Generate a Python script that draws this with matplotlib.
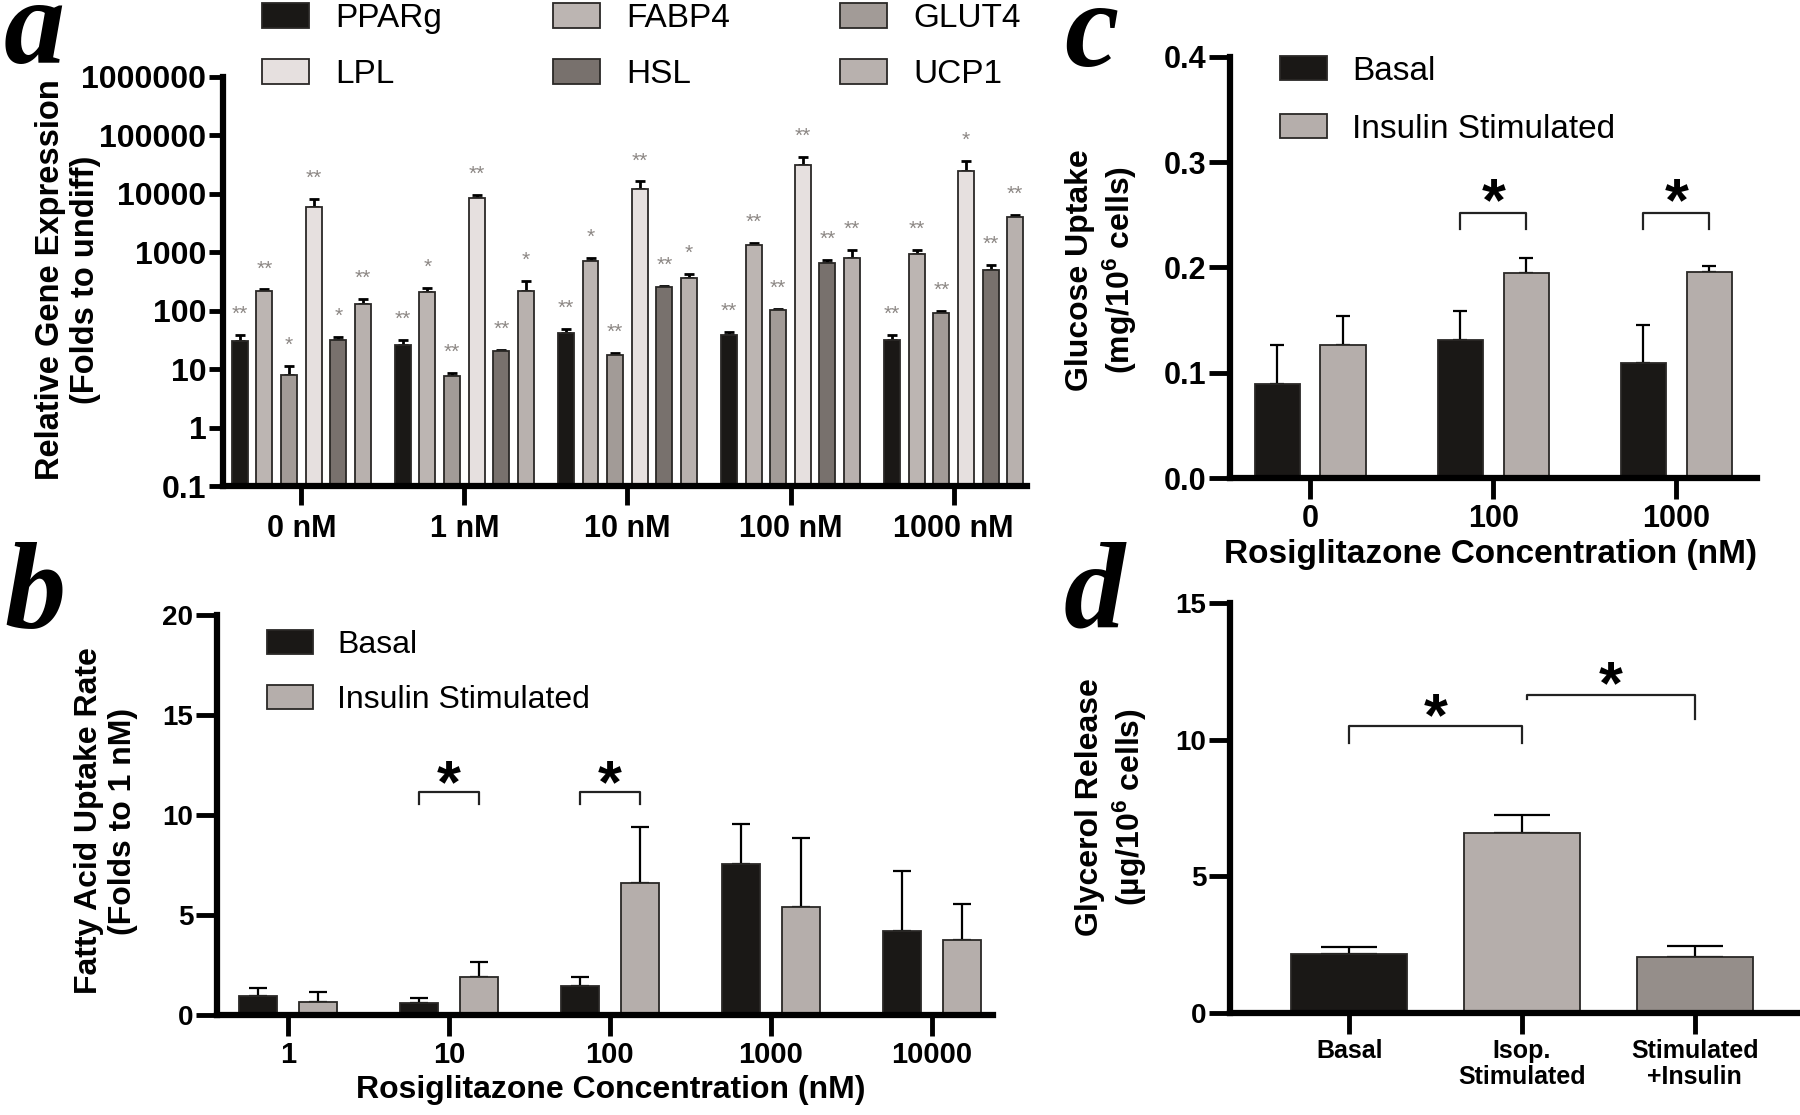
import numpy as np
import matplotlib
matplotlib.use("Agg")
import matplotlib.pyplot as plt

plt.rcParams["font.family"] = ["Liberation Sans", "DejaVu Sans"]
plt.rcParams["mathtext.fontset"] = "custom"
plt.rcParams["mathtext.rm"] = "Liberation Sans:bold"
plt.rcParams["mathtext.bf"] = "Liberation Sans:bold"
plt.rcParams["mathtext.it"] = "Liberation Sans:bold:italic"

W, H = 1800, 1115

# ---- a: gene expression (folds to undiff), upper error only
conc_a = ["0 nM", "1 nM", "10 nM", "100 nM", "1000 nM"]
genes = ["PPARg", "FABP4", "GLUT4", "LPL", "HSL", "UCP1"]
gene_colors = ["#1a1816", "#bcb5b2", "#a29b97", "#e6e0df", "#78716d", "#b8b1ae"]
pparg = [30, 26, 42, 39, 31]
pparg_err = [9, 5, 7, 4, 8]
fabp4 = [219, 205, 723, 1350, 942]
fabp4_err = [12, 36, 70, 90, 158]
glut4 = [8.0, 7.7, 17.7, 102, 93]
glut4_err = [3.4, 0.8, 0.9, 7, 6]
lpl = [6030, 8610, 12300, 31200, 24200]
lpl_err = [2030, 970, 4000, 11100, 12800]
hsl = [32, 20.2, 250, 667, 499]
hsl_err = [3, 1.1, 14, 76, 109]
ucp1 = [129, 219, 358, 793, 3990]
ucp1_err = [28, 103, 62, 307, 340]
pparg_sig = ["**", "**", "**", "**", "**"]
fabp4_sig = ["**", "*", "*", "**", "**"]
glut4_sig = ["*", "**", "**", "**", "**"]
lpl_sig = ["**", "**", "**", "**", "*"]
hsl_sig = ["*", "**", "**", "**", "**"]
ucp1_sig = ["**", "*", "*", "**", "**"]
a_ticks = [0.1, 1, 10, 100, 1000, 10000, 100000, 1000000]
a_ticklabels = ["0.1", "1", "10", "100", "1000", "10000", "100000", "1000000"]

# ---- b: fatty acid uptake
conc_b = ["1", "10", "100", "1000", "10000"]
fa_basal = [0.97, 0.62, 1.47, 7.54, 4.19]
fa_basal_err = [0.36, 0.21, 0.44, 2.0, 3.02]
fa_insulin = [0.67, 1.89, 6.59, 5.39, 3.75]
fa_insulin_err = [0.48, 0.76, 2.81, 3.44, 1.78]
fa_sig_groups = [1, 2]
fa_bracket_top = 11.13
fa_bracket_leg = 10.56
fa_star_y = 12.4

# ---- c: glucose uptake
conc_c = ["0", "100", "1000"]
glu_basal = [0.0892, 0.131, 0.109]
glu_basal_err = [0.037, 0.028, 0.036]
glu_insulin = [0.126, 0.195, 0.196]
glu_insulin_err = [0.028, 0.014, 0.005]
glu_sig_groups = [1, 2]
glu_bracket_top = 0.2516
glu_bracket_leg = 0.237
glu_star_y = 0.279

# ---- d: glycerol release
glyc_labels = ["Basal", "Isop.\nStimulated", "Stimulated\n+Insulin"]
glyc_colors = ["#1a1816", "#b5aeab", "#958e8a"]
glyc = [2.15, 6.57, 2.04]
glyc_err = [0.26, 0.69, 0.41]
glyc_pairs = [(0, 1), (1, 2)]
glyc_bracket_top = [10.5, 11.64]
glyc_leg_left = [9.86, 11.5]
glyc_leg_right = [9.86, 10.76]
glyc_star_y = [11.47, 12.63]

basal_color = "#1a1816"
insulin_color = "#b5aeab"
edge = "#2a2826"


def box(left, top, right, bottom):
    return [left / W, 1 - bottom / H, (right - left) / W, (bottom - top) / H]


def style(ax, ylen=15, xlen=15):
    for s in ["top", "right"]:
        ax.spines[s].set_visible(False)
    for s in ["left", "bottom"]:
        ax.spines[s].set_linewidth(4.5)
    ax.tick_params(axis="y", direction="out", width=3.5, length=ylen, pad=2)
    ax.tick_params(axis="x", direction="out", width=3.5, length=xlen, pad=4)
    ax.minorticks_off()


def bracket(ax, x0, x1, top, leg0, leg1, star_y, size=44):
    ax.plot([x0, x0, x1, x1], [leg0, top, top, leg1], color="#222", lw=1.6)
    ax.annotate("*", (0.5 * (x0 + x1), star_y), xytext=(0, -0.58 * size),
                textcoords="offset points", ha="center", va="baseline",
                fontsize=size, fontweight="bold")


fig = plt.figure(figsize=(18, 11.15), dpi=100)

# ================= panel a
ax = fig.add_axes(box(223, 77, 1027, 486))
style(ax, ylen=10, xlen=14)
ax.set_yscale("log")
series = [pparg, fabp4, glut4, lpl, hsl, ucp1]
errs = [pparg_err, fabp4_err, glut4_err, lpl_err, hsl_err, ucp1_err]
sigs = [pparg_sig, fabp4_sig, glut4_sig, lpl_sig, hsl_sig, ucp1_sig]
xa = np.arange(len(conc_a))
step, wa = 0.151, 0.098
a_handles = []
for i, (vals, err, sig, col) in enumerate(zip(series, errs, sigs, gene_colors)):
    xs = xa + (i - 2.5) * step
    bars = ax.bar(xs, vals, wa, color=col, edgecolor=edge, linewidth=1.3,
                  label=genes[i], zorder=2)
    a_handles.append(bars)
    ax.errorbar(xs, vals, yerr=[np.zeros(len(vals)), err], fmt="none",
                ecolor="k", elinewidth=2, capsize=3.5, capthick=2, zorder=1)
    for x, v, e, s in zip(xs, vals, err, sig):
        ax.annotate(s, (x, v + e), xytext=(0, 8), textcoords="offset points",
                    ha="center", va="bottom", fontsize=15, color="#8c8784")
ax.set_ylim(0.1, 1e6)
ax.set_yticks(a_ticks)
ax.set_yticklabels(a_ticklabels, fontsize=23, fontweight="bold")
ax.set_xlim(-0.48, 4.45)
ax.set_xticks(xa)
ax.set_xticklabels(conc_a, fontsize=22, fontweight="bold")
ax.tick_params(axis="x", pad=6)
fig.text(68 / W, 1 - 280 / H, "Relative Gene Expression\n(Folds to undiff)",
         rotation=90, ha="center", va="center", multialignment="center",
         fontsize=23.5, fontweight="bold")
order = [0, 3, 1, 4, 2, 5]
fig.legend([a_handles[k] for k in order], [genes[k] for k in order],
           loc="upper left", bbox_to_anchor=(262 / W, 1 - 3 / H), ncol=3,
           frameon=False, fontsize=24, borderpad=0, borderaxespad=0,
           handlelength=1.41, handleheight=0.75, handletextpad=0.8,
           columnspacing=3.3, labelspacing=0.76)

# ================= panel b
ax = fig.add_axes(box(217, 615, 993, 1015))
style(ax)
xb = np.arange(len(conc_b))
ob, wb = 0.186, 0.236
hb1 = ax.bar(xb - ob, fa_basal, wb, color=basal_color, edgecolor=edge, lw=1.3,
             label="Basal", zorder=2)
hb2 = ax.bar(xb + ob, fa_insulin, wb, color=insulin_color, edgecolor=edge,
             lw=1.3, label="Insulin Stimulated", zorder=2)
for xs, vals, err in [(xb - ob, fa_basal, fa_basal_err),
                      (xb + ob, fa_insulin, fa_insulin_err)]:
    ax.errorbar(xs, vals, yerr=[np.zeros(len(vals)), err], fmt="none",
                ecolor="k", elinewidth=1.6, capsize=6.5, capthick=1.6, zorder=1)
for g in fa_sig_groups:
    bracket(ax, g - ob, g + ob, fa_bracket_top, fa_bracket_leg, fa_bracket_leg,
            fa_star_y)
ax.set_ylim(0, 20)
ax.set_yticks([0, 5, 10, 15, 20])
ax.set_yticklabels(["0", "5", "10", "15", "20"], fontsize=20, fontweight="bold")
ax.set_xlim(-0.44, 4.38)
ax.set_xticks(xb)
ax.set_xticklabels(conc_b, fontsize=21, fontweight="bold")
fig.text(106 / W, 1 - 821 / H, "Fatty Acid Uptake Rate\n(Folds to 1 nM)",
         rotation=90, ha="center", va="center", multialignment="center",
         fontsize=23, fontweight="bold")
fig.text(611 / W, 1 - 1090 / H, "Rosiglitazone Concentration (nM)",
         ha="center", va="center", fontsize=23, fontweight="bold")
fig.legend([hb1, hb2], ["Basal", "Insulin Stimulated"], loc="upper left",
           bbox_to_anchor=(267 / W, 1 - 630 / H), frameon=False, fontsize=23,
           borderpad=0, borderaxespad=0, handlelength=1.45, handleheight=0.78,
           handletextpad=0.75, labelspacing=0.78)

# ================= panel c
ax = fig.add_axes(box(1230, 57, 1757, 478))
style(ax)
xc = np.arange(len(conc_c))
oc, wc = 0.18, 0.246
hc1 = ax.bar(xc - oc, glu_basal, wc, color=basal_color, edgecolor=edge, lw=1.3,
             zorder=2)
hc2 = ax.bar(xc + oc, glu_insulin, wc, color=insulin_color, edgecolor=edge,
             lw=1.3, zorder=2)
for xs, vals, err in [(xc - oc, glu_basal, glu_basal_err),
                      (xc + oc, glu_insulin, glu_insulin_err)]:
    ax.errorbar(xs, vals, yerr=[np.zeros(len(vals)), err], fmt="none",
                ecolor="k", elinewidth=1.6, capsize=5, capthick=1.6, zorder=1)
for g in glu_sig_groups:
    bracket(ax, g - oc, g + oc, glu_bracket_top, glu_bracket_leg,
            glu_bracket_leg, glu_star_y)
ax.set_ylim(0, 0.4)
ax.set_yticks([0, 0.1, 0.2, 0.3, 0.4])
ax.set_yticklabels(["0.0", "0.1", "0.2", "0.3", "0.4"], fontsize=22,
                   fontweight="bold")
ax.set_xlim(-0.437, 2.44)
ax.set_xticks(xc)
ax.set_xticklabels(conc_c, fontsize=22, fontweight="bold")
fig.text(1102 / W, 1 - 270 / H, "Glucose Uptake\n(mg/10$^{\\mathbf{6}}$ cells)",
         rotation=90, ha="center", va="center", multialignment="center",
         fontsize=23, fontweight="bold")
fig.text(1490 / W, 1 - 554 / H, "Rosiglitazone Concentration (nM)",
         ha="center", va="center", fontsize=24, fontweight="bold")
fig.legend([hc1, hc2], ["Basal", "Insulin Stimulated"], loc="upper left",
           bbox_to_anchor=(1280 / W, 1 - 56 / H), frameon=False, fontsize=24,
           borderpad=0, borderaxespad=0, handlelength=1.42, handleheight=0.72,
           handletextpad=0.75, labelspacing=0.8)

# ================= panel d
ax = fig.add_axes(box(1230, 603, 1800, 1013))
style(ax)
xd = np.arange(len(glyc))
ax.bar(xd, glyc, 0.67, color=glyc_colors, edgecolor=edge, lw=1.3, zorder=2)
ax.errorbar(xd, glyc, yerr=[np.zeros(len(glyc)), glyc_err], fmt="none",
            ecolor="k", elinewidth=1.6, capsize=20, capthick=1.6, zorder=1)
for (i0, i1), top, l0, l1, sy in zip(glyc_pairs, glyc_bracket_top,
                                     glyc_leg_left, glyc_leg_right, glyc_star_y):
    x0 = xd[i0] + (0.03 if i0 == 1 else 0)
    bracket(ax, x0, xd[i1], top, l0, l1, sy)
ax.set_ylim(0, 15)
ax.set_yticks([0, 5, 10, 15])
ax.set_yticklabels(["0", "5", "10", "15"], fontsize=20, fontweight="bold")
ax.set_xlim(-0.69, 2.61)
ax.set_xticks(xd)
ax.set_xticklabels(glyc_labels, fontsize=18, fontweight="bold", linespacing=1.1)
fig.text(1112 / W, 1 - 807 / H, "Glycerol Release\n(µg/10$^{\\mathbf{6}}$ cells)",
         rotation=90, ha="center", va="center", multialignment="center",
         fontsize=23, fontweight="bold")

# panel letters
letter_kw = dict(fontsize=88, family="Liberation Serif", fontweight="bold",
                 style="italic", va="baseline", ha="left")
fig.text(4 / W, 1 - 63 / H, "a", **letter_kw)
fig.text(4 / W, 1 - 626 / H, "b", **letter_kw)
fig.text(1064 / W, 1 - 66 / H, "c", **letter_kw)
fig.text(1064 / W, 1 - 626 / H, "d", **letter_kw)

fig.savefig("out.png", dpi=100)
